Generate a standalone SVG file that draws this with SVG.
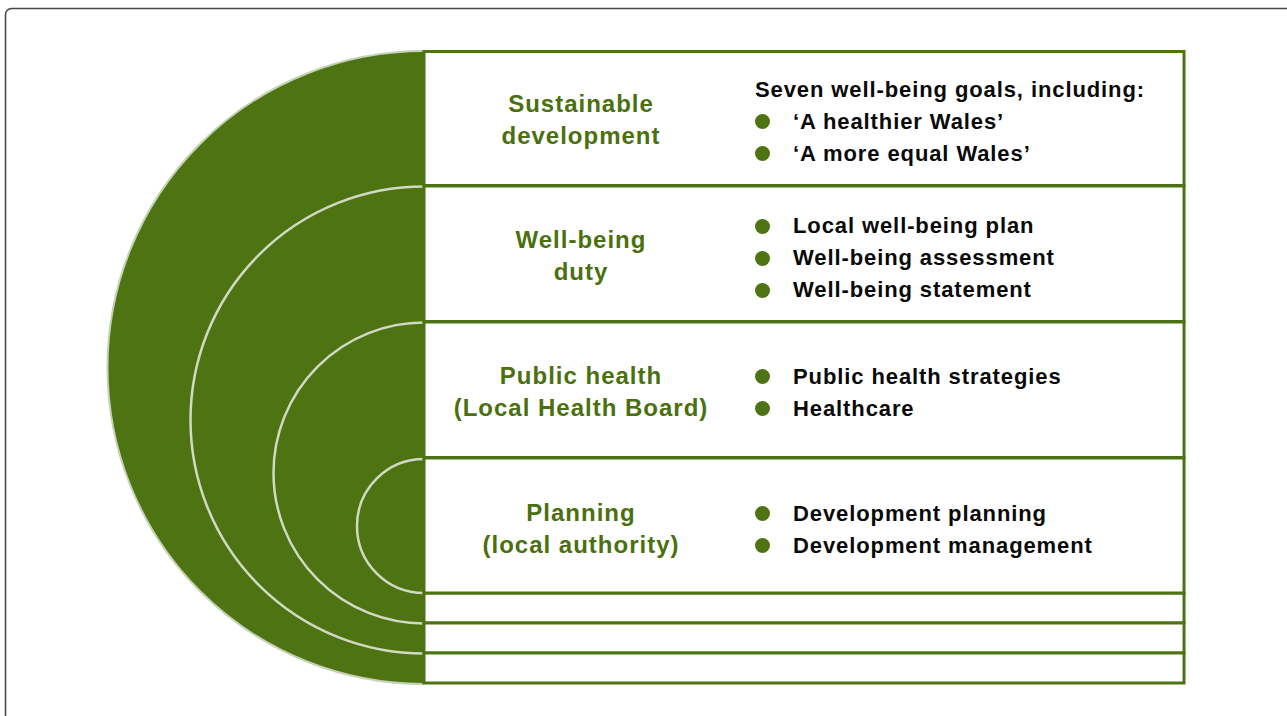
<svg xmlns="http://www.w3.org/2000/svg" width="1287" height="716" viewBox="0 0 1287 716">
  <style>
    .frame { fill: none; stroke: #474747; stroke-width: 1.6; }
    .disk { fill: #4e7312; stroke: none; }
    .ring { fill: none; stroke: #cfdac3; stroke-width: 2.5; }
    .edge { fill: none; stroke: #c4d1b4; stroke-width: 2; }
    .box { fill: #ffffff; stroke: #4e7312; stroke-width: 3; }
    .label { font-family: "Liberation Sans", Arial, sans-serif; font-weight: bold; font-size: 24px; letter-spacing: 1px; fill: #4a7010; text-anchor: middle; }
    .item { font-family: "Liberation Sans", Arial, sans-serif; font-weight: bold; font-size: 22px; letter-spacing: 0.9px; fill: #0a0a0a; }
    .dot { fill: #4e7312; }
  </style>

  <rect class="frame" x="5.5" y="8.5" width="1300" height="730" rx="6"/>

  <g id="disk">
    <path class="disk" d="M424,51 A316.5,316.5 0 0 0 424,684 Z"/>
    <path class="edge" d="M424,51 A316.5,316.5 0 0 0 424,684"/>
  </g>

  <g id="rings">
    <path class="ring" d="M424,186.5 A233.5,233.5 0 0 0 424,653.5"/>
    <path class="ring" d="M424,322.5 A150.5,150.5 0 0 0 424,623.5"/>
    <path class="ring" d="M424,459 A67,67 0 0 0 424,593"/>
  </g>

  <g id="strips">
    <rect class="box" x="424" y="593" width="760" height="30"/>
    <rect class="box" x="424" y="623" width="760" height="30"/>
    <rect class="box" x="424" y="653" width="760" height="30"/>
  </g>

  <g id="sustainable-development">
    <rect class="box" x="424" y="51.5" width="760" height="134"/>
    <text class="label" x="581" y="112">Sustainable</text>
    <text class="label" x="581" y="144">development</text>
    <text class="item" x="755" y="97">Seven well-being goals, including:</text>
    <circle class="dot" cx="762.5" cy="121.5" r="7.5"/>
    <text class="item" x="793" y="129">‘A healthier Wales’</text>
    <circle class="dot" cx="762.5" cy="153.5" r="7.5"/>
    <text class="item" x="793" y="161">‘A more equal Wales’</text>
  </g>

  <g id="well-being-duty">
    <rect class="box" x="424" y="186" width="760" height="135.5"/>
    <text class="label" x="581" y="248">Well-being</text>
    <text class="label" x="581" y="280">duty</text>
    <circle class="dot" cx="762.5" cy="226.5" r="7.5"/>
    <text class="item" x="793" y="233">Local well-being plan</text>
    <circle class="dot" cx="762.5" cy="258.5" r="7.5"/>
    <text class="item" x="793" y="265">Well-being assessment</text>
    <circle class="dot" cx="762.5" cy="290.5" r="7.5"/>
    <text class="item" x="793" y="297">Well-being statement</text>
  </g>

  <g id="public-health">
    <rect class="box" x="424" y="322" width="760" height="135.5"/>
    <text class="label" x="581" y="384">Public health</text>
    <text class="label" x="581" y="416">(Local Health Board)</text>
    <circle class="dot" cx="762.5" cy="376.5" r="7.5"/>
    <text class="item" x="793" y="384">Public health strategies</text>
    <circle class="dot" cx="762.5" cy="408.5" r="7.5"/>
    <text class="item" x="793" y="416">Healthcare</text>
  </g>

  <g id="planning">
    <rect class="box" x="424" y="458" width="760" height="135"/>
    <text class="label" x="581" y="521">Planning</text>
    <text class="label" x="581" y="553">(local authority)</text>
    <circle class="dot" cx="762.5" cy="513.5" r="7.5"/>
    <text class="item" x="793" y="521">Development planning</text>
    <circle class="dot" cx="762.5" cy="545.5" r="7.5"/>
    <text class="item" x="793" y="553">Development management</text>
  </g>
</svg>
